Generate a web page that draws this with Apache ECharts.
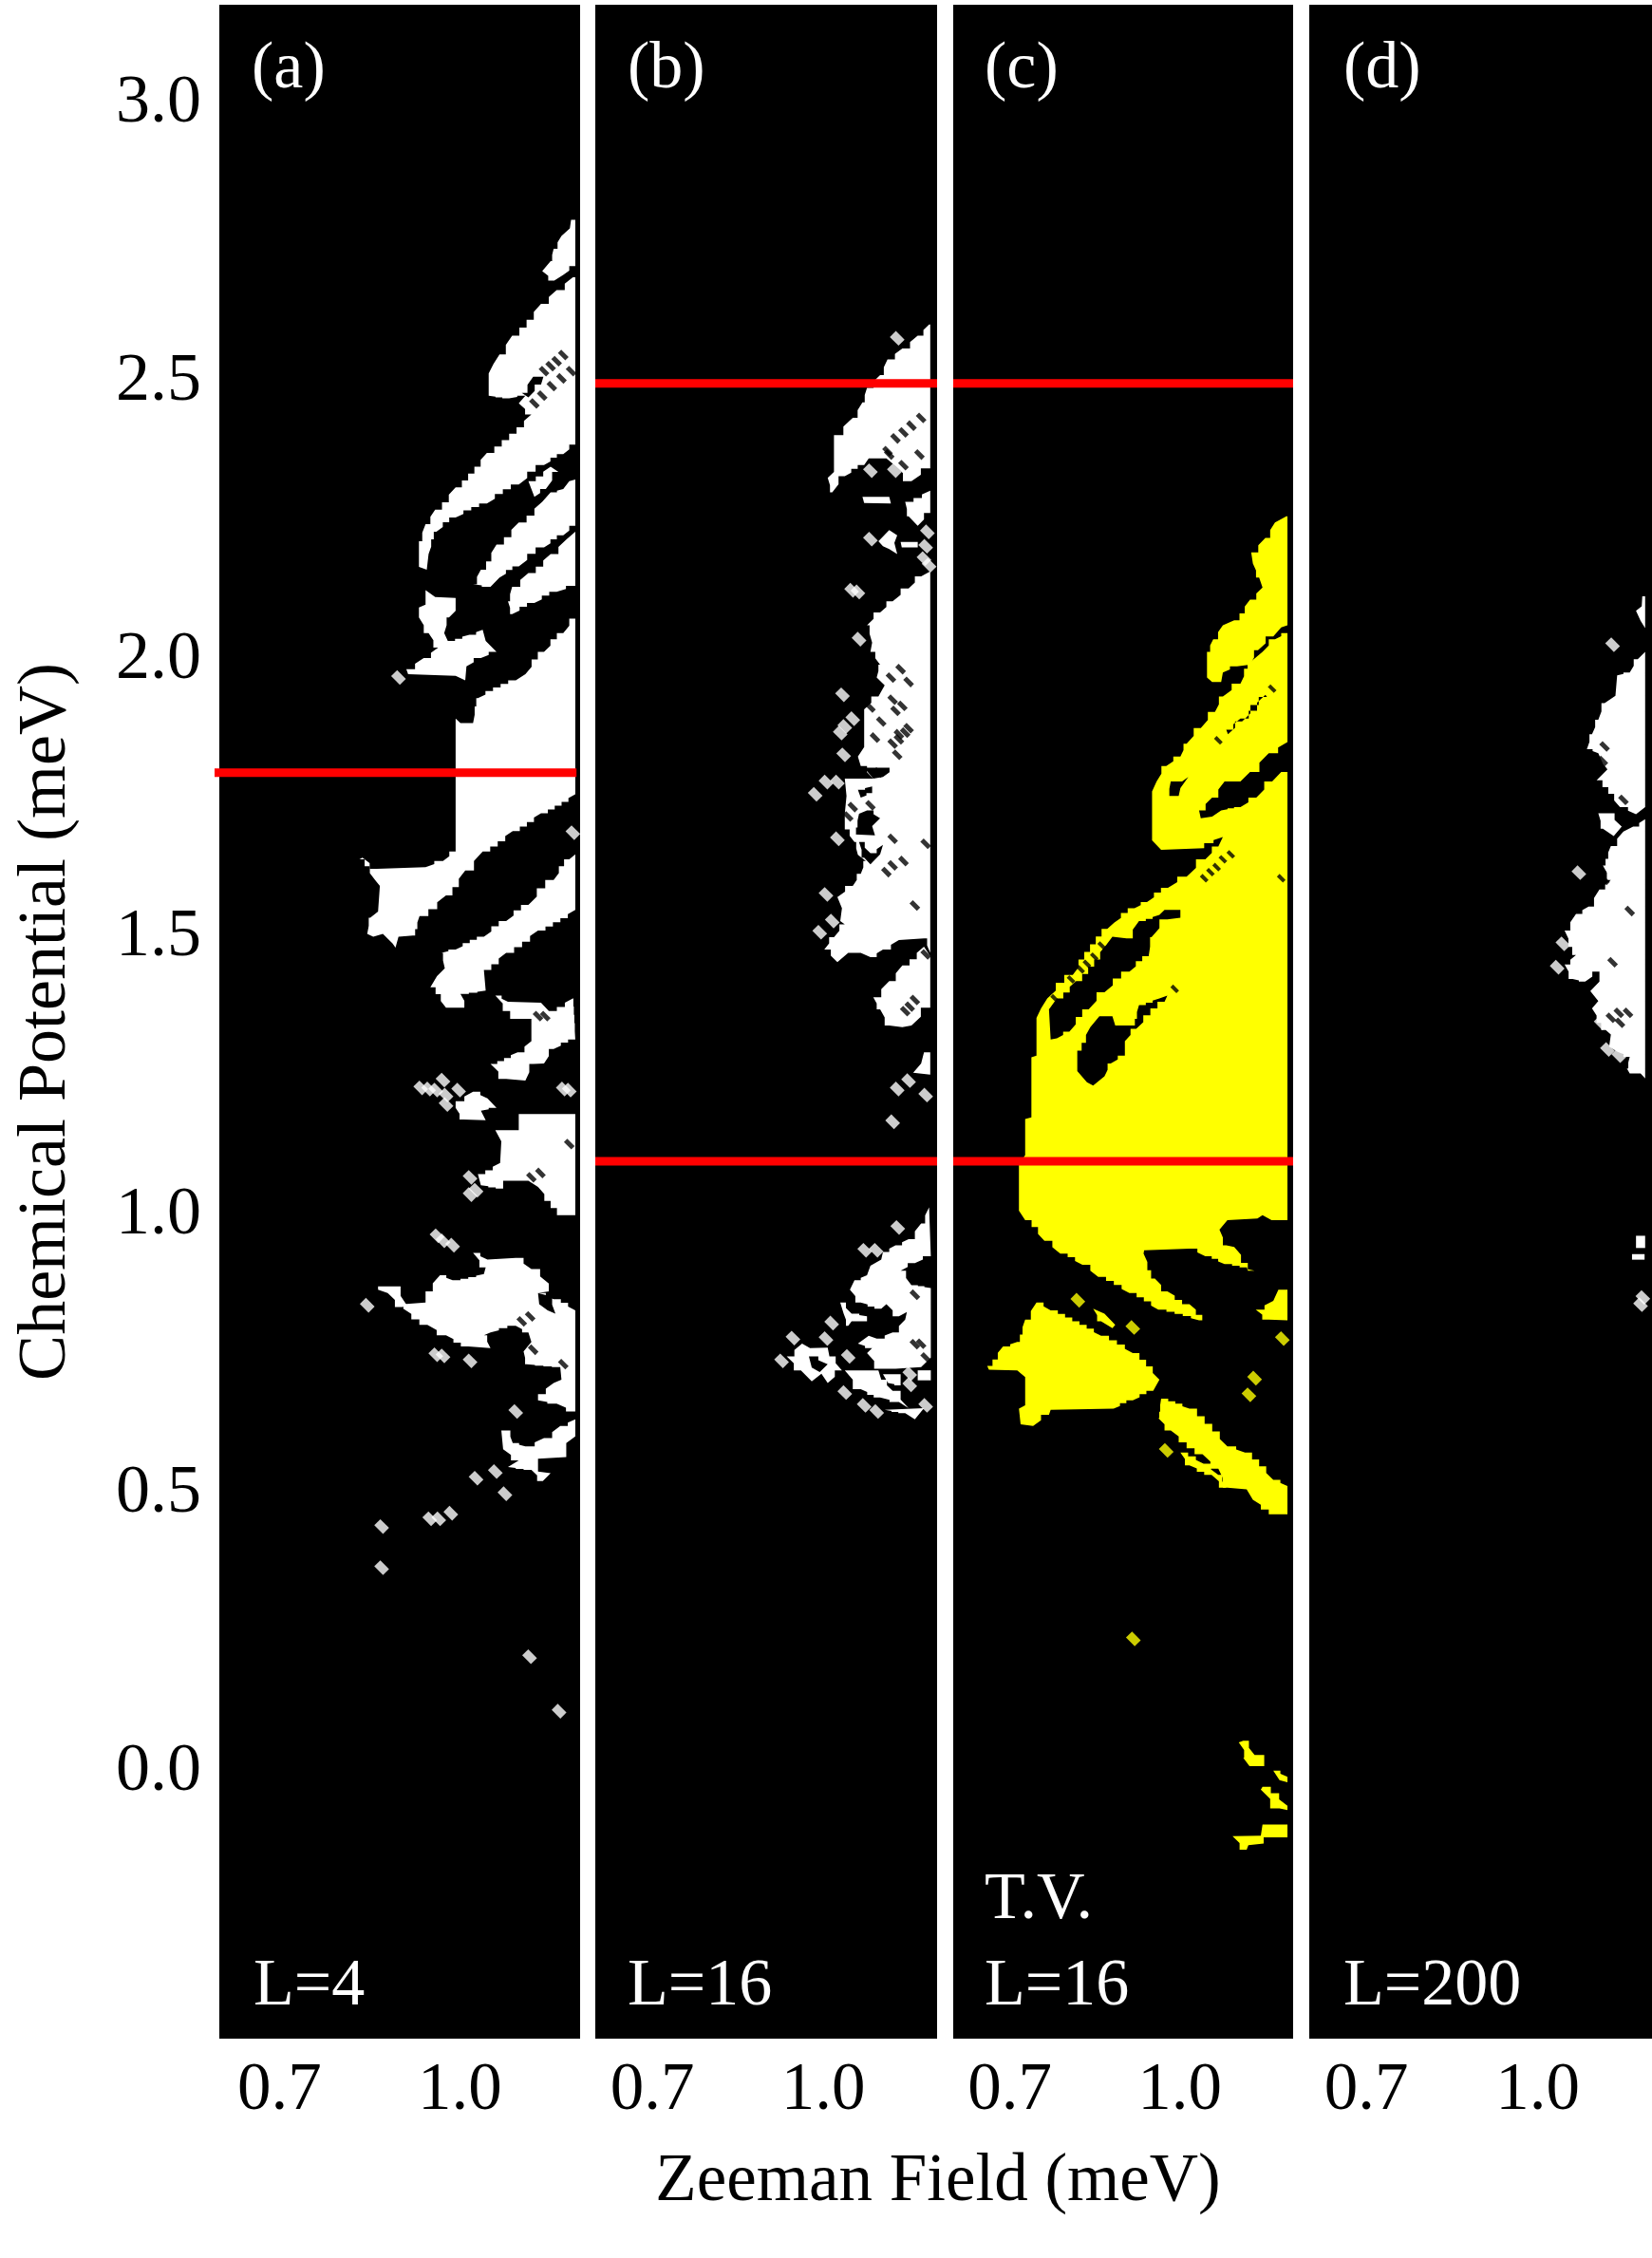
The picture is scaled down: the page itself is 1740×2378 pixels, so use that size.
<!DOCTYPE html>
<html>
<head>
<meta charset="utf-8">
<title>Zeeman Field vs Chemical Potential</title>
<script src="https://cdn.jsdelivr.net/npm/echarts@6/dist/echarts.min.js"></script>
<style>
html,body{margin:0;padding:0;background:#fff;}
#chart{width:1740px;height:2378px;}
</style>
</head>
<body>
<div id="chart"></div>
<script>
// axis values, meV
var xRange = [0.6, 1.2];
var yRange = [-0.48, 3.178];
var xTicks = [0.7, 1.0];
var yTicks = [0, 0.5, 1, 1.5, 2, 2.5, 3];

// red cuts, chemical potential in meV
var redA = [1.797];
var redB = [2.497, 1.098];
var redC = [2.497, 1.098];

// panel (a) L=4, regions as [field, potential]
var panelARegions = [
	[[1.185,2.791],[1.192,2.791],[1.192,2.708],[1.172,2.692],[1.157,2.682],[1.137,2.699],[1.151,2.717],[1.156,2.739],[1.169,2.762],[1.183,2.776]],
	[[1.188,2.688],[1.192,2.688],[1.192,2.387],[1.172,2.370],[1.140,2.350],[1.098,2.315],[1.045,2.281],[0.993,2.256],[0.961,2.230],[0.948,2.190],[0.945,2.162],[0.932,2.167],[0.932,2.213],[0.943,2.244],[0.959,2.270],[0.993,2.310],[1.045,2.372],[1.119,2.441],[1.098,2.461],[1.109,2.475],[1.082,2.470],[1.048,2.475],[1.048,2.515],[1.056,2.532],[1.066,2.549],[1.087,2.583],[1.135,2.640],[1.161,2.665]],
	[[1.192,2.324],[1.192,2.241],[1.172,2.224],[1.140,2.202],[1.098,2.168],[1.066,2.148],[1.051,2.131],[1.022,2.136],[1.035,2.162],[1.061,2.207],[1.098,2.247],[1.137,2.284],[1.151,2.301],[1.172,2.307],[1.182,2.321]],
	[[1.114,2.321],[1.151,2.347],[1.164,2.338],[1.143,2.307],[1.124,2.293],[1.119,2.307]],
	[[1.192,2.230],[1.192,2.133],[1.161,2.122],[1.124,2.102],[1.087,2.082],[1.080,2.105],[1.087,2.131],[1.114,2.156],[1.151,2.190],[1.177,2.216]],
	[[0.943,2.125],[0.959,2.113],[0.993,2.111],[0.993,2.088],[0.982,2.076],[0.974,2.048],[0.980,2.034],[1.016,2.045],[1.038,2.054],[1.043,2.034],[1.061,2.014],[1.035,2.003],[1.011,1.988],[1.009,1.963],[0.993,1.971],[0.914,1.974],[0.911,1.983],[0.940,2.003],[0.964,2.022],[0.948,2.048],[0.932,2.076],[0.932,2.094],[0.943,2.099]],
	[[1.192,2.074],[1.172,2.048],[1.140,2.014],[1.109,1.974],[1.093,1.963],[1.030,1.931],[1.022,1.886],[1.001,1.886],[0.993,1.894],[0.993,1.655],[0.972,1.638],[0.943,1.627],[0.862,1.624],[0.838,1.644],[0.833,1.641],[0.859,1.604],[0.867,1.593],[0.864,1.547],[0.851,1.536],[0.846,1.507],[0.856,1.502],[0.872,1.507],[0.888,1.490],[0.893,1.482],[0.898,1.502],[0.922,1.504],[0.933,1.539],[0.977,1.576],[1.009,1.621],[1.038,1.655],[1.088,1.692],[1.135,1.724],[1.192,1.758]],
	[[1.192,1.650],[1.182,1.641],[1.156,1.604],[1.114,1.559],[1.077,1.530],[1.040,1.502],[0.993,1.479],[0.969,1.473],[0.975,1.445],[0.962,1.431],[0.951,1.411],[0.977,1.374],[1.014,1.374],[1.001,1.399],[1.043,1.405],[1.040,1.442],[1.077,1.473],[1.130,1.513],[1.192,1.550]],
	[[1.059,1.396],[1.080,1.385],[1.135,1.383],[1.148,1.368],[1.188,1.391],[1.192,1.317],[1.156,1.300],[1.140,1.274],[1.122,1.273],[1.109,1.243],[1.077,1.246],[1.051,1.273],[1.096,1.294],[1.119,1.314],[1.119,1.354],[1.096,1.354]],
	[[0.993,1.206],[1.022,1.223],[1.046,1.211],[1.061,1.194],[1.035,1.189],[1.043,1.172],[1.006,1.173],[0.993,1.194]],
	[[1.098,1.183],[1.192,1.183],[1.192,1.001],[1.172,1.001],[1.130,1.052],[1.114,1.063],[1.072,1.063],[1.072,1.049],[1.035,1.055],[1.030,1.075],[1.067,1.095],[1.069,1.134],[1.059,1.154],[1.098,1.154]],
	[[1.022,0.933],[1.046,0.921],[1.093,0.924],[1.119,0.904],[1.148,0.878],[1.148,0.864],[1.130,0.861],[1.156,0.850],[1.192,0.830],[1.192,0.648],[1.161,0.662],[1.130,0.668],[1.130,0.679],[1.156,0.699],[1.169,0.705],[1.167,0.728],[1.111,0.733],[1.106,0.756],[1.119,0.773],[1.114,0.790],[1.093,0.802],[1.051,0.790],[1.040,0.785],[1.051,0.762],[1.014,0.765],[0.977,0.785],[0.946,0.804],[0.906,0.833],[0.906,0.841],[0.943,0.844],[0.943,0.864],[0.967,0.893],[0.988,0.884],[1.040,0.895],[1.043,0.907]],
	[[0.864,0.873],[0.891,0.873],[0.912,0.839],[0.904,0.836],[0.880,0.861],[0.864,0.867]],
	[[1.069,0.614],[1.080,0.614],[1.088,0.591],[1.109,0.585],[1.140,0.600],[1.167,0.622],[1.192,0.634],[1.192,0.603],[1.177,0.591],[1.177,0.566],[1.130,0.563],[1.130,0.540],[1.151,0.537],[1.138,0.523],[1.119,0.543],[1.080,0.548],[1.098,0.560],[1.072,0.580]]
];
var panelAHoles = [
	[[1.103,2.480],[1.122,2.509],[1.139,2.509],[1.135,2.495],[1.114,2.472]],
	[[1.130,0.861],[1.148,0.856],[1.159,0.824],[1.146,0.830],[1.132,0.841]]
];
var panelASpecks = [[0.898,1.968],[0.948,1.228],[0.935,1.230],[0.960,1.226],[0.972,1.244],[0.977,1.217],[0.977,1.200],[0.998,1.226],[1.017,1.069],[1.027,1.046],[1.017,1.038],[1.182,1.226],[1.172,1.228],[0.962,0.964],[0.972,0.955],[0.988,0.947],[0.846,0.839],[0.972,0.748],[0.960,0.750],[1.017,0.739],[1.093,0.648],[1.027,0.528],[1.059,0.540],[1.075,0.500],[0.870,0.441],[0.870,0.367],[1.116,0.207],[1.165,0.109],[0.950,0.455],[0.965,0.455],[0.985,0.465],[1.188,1.689]];
var panelADots = [[1.172,2.548],[1.161,2.537],[1.151,2.528],[1.140,2.519],[1.185,2.519],[1.169,2.506],[1.153,2.492],[1.137,2.475],[1.124,2.461],[1.182,1.129],[1.119,1.069],[1.134,1.077],[1.103,0.810],[1.117,0.819],[1.122,0.759],[1.172,0.733],[1.130,1.359],[1.142,1.359]];

// panel (b) L=16
var panelBRegions = [
	[[1.186,2.603],[1.188,2.603],[1.188,2.344],[1.155,2.321],[1.125,2.350],[1.111,2.362],[1.080,2.362],[1.072,2.350],[1.038,2.330],[1.016,2.301],[1.008,2.327],[1.019,2.338],[1.019,2.404],[1.052,2.435],[1.069,2.463],[1.077,2.489],[1.100,2.512],[1.113,2.540],[1.139,2.560],[1.166,2.583]],
	[[1.144,2.284],[1.188,2.304],[1.188,2.264],[1.166,2.241],[1.150,2.258]],
	[[1.069,2.293],[1.116,2.293],[1.119,2.281],[1.072,2.282]],
	[[1.097,2.213],[1.116,2.233],[1.130,2.224],[1.125,2.210],[1.130,2.190],[1.116,2.199],[1.105,2.204]],
	[[1.136,2.212],[1.166,2.212],[1.166,2.202],[1.138,2.202]],
	[[1.188,2.159],[1.172,2.150],[1.150,2.128],[1.122,2.105],[1.100,2.085],[1.077,2.062],[1.086,2.031],[1.083,2.014],[1.100,1.991],[1.094,1.968],[1.108,1.954],[1.097,1.934],[1.072,1.911],[1.072,1.843],[1.061,1.826],[1.066,1.809],[1.088,1.786],[1.038,1.786],[1.041,1.755],[1.038,1.723],[1.038,1.695],[1.055,1.672],[1.061,1.649],[1.075,1.638],[1.066,1.615],[1.052,1.593],[1.025,1.573],[1.033,1.553],[1.030,1.530],[1.038,1.524],[1.019,1.501],[1.002,1.479],[1.025,1.456],[1.044,1.473],[1.066,1.473],[1.083,1.465],[1.105,1.479],[1.133,1.496],[1.177,1.499],[1.188,1.473]],
	[[1.188,1.467],[1.188,1.374],[1.155,1.342],[1.139,1.339],[1.116,1.342],[1.100,1.371],[1.088,1.393],[1.116,1.422],[1.139,1.450],[1.177,1.484]],
	[[1.177,1.294],[1.188,1.294],[1.188,1.254],[1.158,1.257],[1.172,1.274]],
	[[1.186,1.015],[1.189,0.927],[1.161,0.915],[1.136,0.901],[1.155,0.875],[1.189,0.870],[1.189,0.745],[1.172,0.728],[1.127,0.725],[1.102,0.725],[1.077,0.753],[1.086,0.762],[1.061,0.770],[1.080,0.784],[1.094,0.779],[1.122,0.790],[1.144,0.813],[1.147,0.827],[1.133,0.819],[1.111,0.841],[1.102,0.833],[1.066,0.844],[1.047,0.867],[1.055,0.884],[1.077,0.893],[1.083,0.910],[1.102,0.921],[1.105,0.935],[1.127,0.947],[1.150,0.958],[1.172,0.986]],
	[[0.936,0.747],[0.963,0.770],[0.977,0.762],[1.008,0.763],[1.011,0.747],[1.033,0.722],[1.008,0.699],[0.997,0.716],[0.980,0.702],[0.961,0.722]],
	[[1.038,0.722],[1.097,0.722],[1.102,0.705],[1.122,0.685],[1.150,0.654],[1.133,0.665],[1.100,0.673],[1.066,0.688]],
	[[1.105,0.715],[1.136,0.715],[1.136,0.695],[1.114,0.699]],
	[[1.166,0.722],[1.189,0.722],[1.189,0.704],[1.166,0.704]],
	[[1.108,0.651],[1.177,0.654],[1.161,0.634],[1.144,0.645]],
	[[1.030,0.844],[1.050,0.824],[1.077,0.819],[1.077,0.810],[1.050,0.810],[1.044,0.802],[1.036,0.824]]
];
var panelBHoles = [
	[[1.061,1.766],[1.086,1.772],[1.086,1.760],[1.066,1.752]],
	[[1.063,1.723],[1.077,1.729],[1.100,1.715],[1.086,1.701],[1.091,1.684],[1.055,1.686]],
	[[1.063,1.672],[1.083,1.652],[1.105,1.667],[1.100,1.650],[1.083,1.632],[1.072,1.644]],
	[[1.072,1.806],[1.128,1.806],[1.105,1.789],[1.088,1.786]],
	[[0.975,0.747],[1.008,0.733],[0.994,0.719],[0.980,0.727]]
];
var panelBSpecks = [[1.130,2.578],[1.083,2.340],[1.125,2.340],[1.083,2.217],[1.183,2.230],[1.180,2.204],[1.177,2.182],[1.186,2.170],[1.061,2.122],[1.050,2.125],[1.063,2.037],[1.034,1.937],[1.052,1.894],[1.038,1.880],[1.030,1.868],[1.036,1.829],[1.005,1.780],[0.986,1.758],[1.025,1.780],[1.025,1.678],[1.005,1.578],[1.016,1.530],[0.994,1.510],[1.122,1.169],[1.180,1.217],[1.150,1.243],[1.130,1.228],[1.131,0.979],[1.073,0.938],[1.093,0.938],[1.015,0.807],[0.947,0.780],[1.005,0.779],[0.927,0.739],[1.044,0.747],[1.152,0.716],[1.152,0.696],[1.072,0.659],[1.094,0.648],[1.180,0.659],[1.038,0.682]];
var panelBDots = [[1.122,1.678],[1.180,1.669],[1.141,1.638],[1.122,1.630],[1.111,1.618],[1.161,1.558],[1.180,1.470],[1.091,1.860],[1.122,1.849],[1.133,1.857],[1.144,1.869],[1.130,1.829],[1.097,1.797],[1.083,1.738],[1.052,1.735],[1.044,1.718],[1.144,1.368],[1.152,1.376],[1.161,1.388],[1.136,1.983],[1.150,1.960],[1.119,1.968],[1.139,1.917],[1.122,1.928],[1.127,1.908],[1.150,1.877],[1.133,1.866],[1.102,1.889],[1.083,1.914],[1.113,2.375],[1.127,2.398],[1.141,2.409],[1.155,2.421],[1.172,2.435],[1.116,2.369],[1.169,2.369],[1.141,2.350],[1.161,0.858],[1.161,0.769],[1.172,0.770],[1.180,0.745]];

// panel (c) T.V. L=16
var panelCRegions = [
	[[1.188,2.258],[1.190,2.258],[1.190,2.062],[1.179,2.058],[1.165,2.042],[1.138,2.017],[1.124,1.991],[1.101,1.988],[1.076,1.977],[1.073,1.960],[1.057,1.960],[1.048,1.968],[1.048,2.014],[1.059,2.037],[1.076,2.062],[1.096,2.071],[1.124,2.108],[1.146,2.130],[1.140,2.148],[1.129,2.173],[1.126,2.193],[1.151,2.219],[1.168,2.247]],
	[[1.190,2.048],[1.168,2.037],[1.146,2.014],[1.126,1.997],[1.107,1.957],[1.076,1.934],[1.062,1.906],[1.037,1.877],[1.012,1.849],[1.001,1.826],[0.976,1.809],[0.959,1.781],[0.951,1.763],[0.951,1.675],[0.967,1.658],[1.043,1.661],[1.043,1.670],[1.076,1.681],[1.068,1.664],[1.045,1.641],[1.012,1.610],[0.979,1.590],[0.942,1.564],[0.920,1.553],[0.884,1.527],[0.872,1.516],[0.811,1.433],[0.766,1.391],[0.755,1.373],[0.747,1.356],[0.747,1.288],[0.738,1.285],[0.738,1.177],[0.727,1.174],[0.727,1.109],[0.716,1.092],[0.716,1.009],[0.727,0.992],[0.761,0.955],[0.789,0.932],[0.828,0.912],[0.856,0.890],[0.911,0.861],[0.962,0.831],[1.034,0.812],[1.051,0.812],[1.017,0.841],[0.978,0.864],[0.956,0.887],[0.936,0.932],[0.937,0.938],[1.017,0.941],[1.045,0.927],[1.079,0.913],[1.132,0.901],[1.096,0.944],[1.082,0.947],[1.070,0.975],[1.084,0.992],[1.137,0.995],[1.146,1.001],[1.162,0.992],[1.190,0.992],[1.190,1.798],[1.179,1.798],[1.163,1.781],[1.135,1.752],[1.107,1.735],[1.073,1.729],[1.057,1.718],[1.037,1.715],[1.034,1.729],[1.057,1.752],[1.079,1.781],[1.107,1.781],[1.124,1.798],[1.157,1.832],[1.190,1.852]],
	[[0.660,0.730],[0.688,0.765],[0.713,0.773],[0.727,0.813],[0.747,0.844],[0.772,0.830],[0.861,0.784],[0.917,0.753],[0.964,0.705],[0.953,0.685],[0.917,0.668],[0.883,0.653],[0.772,0.651],[0.769,0.642],[0.741,0.622],[0.719,0.625],[0.716,0.653],[0.727,0.659],[0.727,0.710],[0.713,0.722],[0.663,0.723]],
	[[0.967,0.671],[1.017,0.653],[1.084,0.585],[1.115,0.574],[1.165,0.525],[1.190,0.514],[1.190,0.463],[1.171,0.463],[1.129,0.489],[1.118,0.508],[1.084,0.511],[1.068,0.545],[1.040,0.571],[0.984,0.614],[0.962,0.636]],
	[[1.001,0.574],[1.042,0.554],[1.068,0.534],[1.082,0.511],[1.056,0.534],[1.017,0.551]],
	[[1.134,0.831],[1.165,0.847],[1.174,0.867],[1.190,0.867],[1.190,0.812],[1.157,0.813]],
	[[0.847,0.833],[0.867,0.824],[0.886,0.804],[0.881,0.798],[0.861,0.810]],
	[[1.104,0.053],[1.112,0.056],[1.132,0.030],[1.149,0.030],[1.149,0.010],[1.123,0.010],[1.112,0.025],[1.123,0.025]],
	[[1.165,0.002],[1.190,-0.009],[1.190,-0.019],[1.176,-0.015]],
	[[1.146,-0.027],[1.190,-0.061],[1.190,-0.069],[1.176,-0.066],[1.143,-0.032]],
	[[1.146,-0.095],[1.190,-0.095],[1.190,-0.118],[1.148,-0.118],[1.148,-0.129],[1.121,-0.132],[1.118,-0.140],[1.093,-0.116],[1.143,-0.115]]
];
var panelCHoles = [
	[[0.973,1.550],[1.001,1.550],[1.001,1.536],[0.978,1.533],[0.950,1.501],[0.945,1.467],[0.911,1.439],[0.867,1.402],[0.839,1.371],[0.805,1.331],[0.783,1.319],[0.772,1.317],[0.769,1.371],[0.783,1.391],[0.817,1.422],[0.870,1.487],[0.881,1.502],[0.906,1.499],[0.928,1.530],[0.964,1.541]],
	[[0.819,1.297],[0.842,1.339],[0.858,1.359],[0.881,1.359],[0.886,1.342],[0.917,1.342],[0.928,1.379],[0.964,1.391],[0.978,1.396],[0.973,1.385],[0.923,1.336],[0.903,1.314],[0.903,1.288],[0.878,1.274],[0.867,1.251],[0.847,1.234],[0.836,1.240],[0.819,1.260]],
	[[0.984,1.781],[1.004,1.781],[1.015,1.789],[1.001,1.769],[0.998,1.755],[0.979,1.755]],
	[[1.082,1.874],[1.107,1.894],[1.151,1.937],[1.154,1.933],[1.110,1.889],[1.085,1.866]]
];
var panelCSpecks = [[0.820,0.848],[0.917,0.799],[1.132,0.708],[1.122,0.678],[0.976,0.578],[1.181,0.779],[0.918,0.239]];
var panelCDots = [[0.991,1.408],[1.068,1.855],[1.163,1.948],[1.090,1.650],[1.076,1.641],[1.065,1.627],[1.054,1.618],[1.043,1.607],[1.179,1.607],[0.779,1.391],[0.808,1.425],[0.825,1.443],[0.836,1.453],[0.849,1.466],[0.862,1.486]];

// panel (d) L=200
var panelDRegions = [
	[[1.188,2.014],[1.175,2.001],[1.161,1.977],[1.139,1.972],[1.136,1.935],[1.117,1.922],[1.106,1.892],[1.095,1.866],[1.086,1.839],[1.106,1.832],[1.114,1.813],[1.122,1.803],[1.103,1.783],[1.144,1.735],[1.172,1.722],[1.188,1.735]],
	[[1.106,1.724],[1.122,1.724],[1.147,1.700],[1.133,1.683],[1.114,1.696]],
	[[1.188,1.713],[1.188,1.247],[1.180,1.256],[1.161,1.256],[1.156,1.265],[1.161,1.286],[1.139,1.295],[1.125,1.304],[1.128,1.326],[1.119,1.334],[1.095,1.373],[1.106,1.386],[1.092,1.404],[1.108,1.421],[1.108,1.439],[1.083,1.421],[1.061,1.426],[1.047,1.452],[1.067,1.469],[1.047,1.513],[1.067,1.543],[1.089,1.556],[1.108,1.587],[1.128,1.604],[1.114,1.630],[1.128,1.665],[1.150,1.691],[1.167,1.700]],
	[[1.183,2.114],[1.188,2.114],[1.188,2.057],[1.180,2.070],[1.172,2.088],[1.182,2.096]],
	[[1.172,0.964],[1.188,0.964],[1.188,0.942],[1.172,0.942]],
	[[1.165,0.931],[1.187,0.931],[1.187,0.921],[1.165,0.921]]
];
var panelDSpecks = [[1.072,1.617],[1.044,1.489],[1.034,1.447],[1.111,1.347],[1.131,2.027],[1.122,1.299],[1.142,1.288],[1.132,1.857],[1.180,0.840],[1.184,0.853]];
var panelDDots = [[1.117,1.844],[1.114,1.818],[1.150,1.748],[1.128,1.356],[1.142,1.365],[1.158,1.365],[1.144,1.347],[1.161,1.548],[1.131,1.456],[1.111,1.622],[1.117,1.604]];

var serif = '"Liberation Serif","Times New Roman",serif';

// grid boxes of the four strips
var panels = [
	{left: 231, width: 380},
	{left: 627, width: 360},
	{left: 1004, width: 358},
	{left: 1379, width: 361}
];

// pixel staircase along slanted edges, same look as the computed map
function stairs(points) {
	var out = [];
	for (var i = 0; i < points.length; i++) {
		var a = points[i], b = points[(i + 1) % points.length];
		var dx = b[0] - a[0], dy = b[1] - a[1];
		var n = Math.round(Math.max(Math.abs(dx), Math.abs(dy)) / 8);
		out.push(a);
		if (n < 2 || Math.abs(dx) < 2 || Math.abs(dy) < 2) continue;
		for (var k = 1; k < n; k++) {
			out.push([a[0] + dx * k / n, a[1] + dy * (k - 1) / n]);
			out.push([a[0] + dx * k / n, a[1] + dy * k / n]);
		}
	}
	return out;
}

function regionSeries(polys, idx, color) {
	return {
		type: 'custom',
		xAxisIndex: idx,
		yAxisIndex: idx,
		silent: true,
		clip: true,
		data: polys.map(function(p) { return p[0]; }),
		renderItem: function(params, api) {
			var pts = polys[params.dataIndex].map(function(p) { return api.coord(p); });
			return {type: 'polygon', shape: {points: stairs(pts)}, style: {fill: color}};
		}
	};
}

// small slanted flecks of the map, white on black or black on white
function speckSeries(points, idx, color, size) {
	return {
		type: 'scatter',
		xAxisIndex: idx,
		yAxisIndex: idx,
		silent: true,
		symbol: 'rect',
		symbolRotate: -45,
		symbolSize: size,
		itemStyle: {color: color},
		data: points
	};
}

function redSeries(val, idx, from, to) {
	return {
		type: 'line',
		xAxisIndex: idx,
		yAxisIndex: idx,
		silent: true,
		clip: false,
		symbol: 'none',
		lineStyle: {color: '#ff0000', width: 9},
		data: [[from, val], [to, val]]
	};
}

var series = [];
series.push(regionSeries(panelARegions, 0, '#fff'), regionSeries(panelAHoles, 0, '#000'));
series.push(speckSeries(panelASpecks, 0, '#fff', [13, 9]), speckSeries(panelADots, 0, '#000', [11, 5]));
series.push(regionSeries(panelBRegions, 1, '#fff'), regionSeries(panelBHoles, 1, '#000'));
series.push(speckSeries(panelBSpecks, 1, '#fff', [13, 9]), speckSeries(panelBDots, 1, '#000', [11, 5]));
series.push(regionSeries(panelCRegions, 2, '#ffff00'), regionSeries(panelCHoles, 2, '#000'));
series.push(speckSeries(panelCSpecks, 2, '#ffff00', [13, 9]), speckSeries(panelCDots, 2, '#000', [9, 4]));
series.push(regionSeries(panelDRegions, 3, '#fff'));
series.push(speckSeries(panelDSpecks, 3, '#fff', [13, 9]), speckSeries(panelDDots, 3, '#000', [11, 5]));
redA.forEach(function(v) { series.push(redSeries(v, 0, 0.592, 1.194)); });
redB.forEach(function(v) { series.push(redSeries(v, 1, 0.6, 1.2)); });
redC.forEach(function(v) { series.push(redSeries(v, 2, 0.6, 1.2)); });

function panelText(str, x, y, color) {
	return {
		type: 'text',
		x: x,
		y: y,
		z: 100,
		silent: true,
		style: {text: str, fill: color || '#fff', font: '70px ' + serif, textAlign: 'left', textVerticalAlign: 'middle'}
	};
}

var option = {
	animation: false,
	backgroundColor: '#fff',
	grid: panels.map(function(p) {
		return {left: p.left, width: p.width, top: 5, height: 2142, show: true, backgroundColor: '#000', borderWidth: 0, outerBoundsMode: 'none'};
	}),
	xAxis: panels.map(function(p, i) {
		return {
			type: 'value',
			gridIndex: i,
			min: xRange[0],
			max: xRange[1],
			axisLine: {show: false},
			axisTick: {show: false},
			splitLine: {show: false},
			axisLabel: {
				customValues: xTicks,
				margin: 20,
				color: '#000',
				fontFamily: serif,
				fontSize: 71,
				formatter: function(v) { return v.toFixed(1); }
			}
		};
	}),
	yAxis: panels.map(function(p, i) {
		return {
			type: 'value',
			gridIndex: i,
			show: i === 0,
			min: yRange[0],
			max: yRange[1],
			axisLine: {show: false},
			axisTick: {show: false},
			splitLine: {show: false},
			name: 'Chemical Potential (meV)',
			nameLocation: 'middle',
			nameGap: 146,
			nameMoveOverlap: false,
			nameTextStyle: {color: '#000', fontFamily: serif, fontSize: 72},
			axisLabel: {
				customValues: yTicks,
				margin: 19,
				padding: [12, 0, 0, 0],
				color: '#000',
				fontFamily: serif,
				fontSize: 72,
				formatter: function(v) { return v.toFixed(1); }
			}
		};
	}),
	series: series,
	graphic: [
		panelText('(a)', 265, 74),
		panelText('(b)', 661, 74),
		panelText('(c)', 1037, 74),
		panelText('(d)', 1415, 74),
		panelText('L=4', 267, 2093),
		panelText('L=16', 661, 2093),
		panelText('T.V.', 1037, 2002),
		panelText('L=16', 1037, 2093),
		panelText('L=200', 1415, 2093),
		{
			type: 'text',
			x: 988,
			y: 2298,
			silent: true,
			style: {text: 'Zeeman Field (meV)', fill: '#000', font: '71px ' + serif, textAlign: 'center', textVerticalAlign: 'middle'}
		}
	]
};

var chart = echarts.init(document.getElementById('chart'), null, {renderer: 'canvas'});
chart.setOption(option);
</script>
</body>
</html>
